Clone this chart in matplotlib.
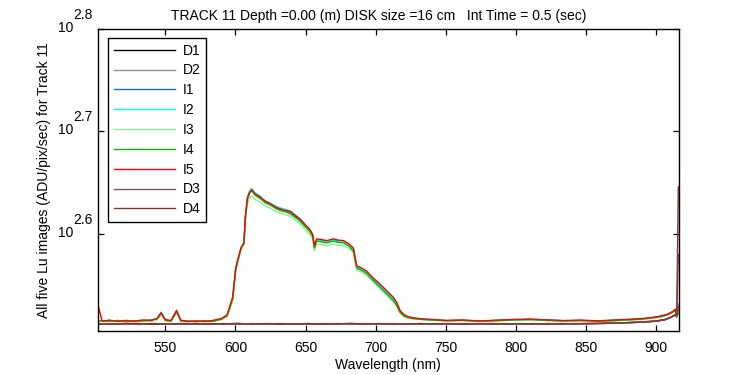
import matplotlib
matplotlib.use("Agg")
import matplotlib.pyplot as plt
from matplotlib.ticker import NullLocator, FixedLocator

plt.rcParams['font.family'] = ['Liberation Sans', 'DejaVu Sans']

title = "TRACK 11 Depth =0.00 (m) DISK size =16 cm   Int Time = 0.5 (sec)"
xlabel = "Wavelength (nm)"
ylabel = "All five Lu images (ADU/pix/sec) for Track 11"

xticks = [550, 600, 650, 700, 750, 800, 850, 900]
ytick_exps = [2.6, 2.7, 2.8]
ytick_exp_labels = ["2.6", "2.7", "2.8"]

# wavelength grid for illuminated series
wl_i = [502, 505, 510, 516, 522, 528, 534, 540, 544, 547,
        550, 554, 558, 561, 566, 572, 578, 584, 590, 594,
        598, 600, 601, 604, 606, 607, 608.5, 610, 611.5, 614,
        617.5, 621, 625, 629, 633, 636, 639, 642, 646, 650,
        653, 655, 656.2, 657.8, 661, 665, 669.7, 673, 677, 681,
        684, 686.4, 690, 693.5, 698, 703, 708, 712.5, 715, 717.3,
        720, 722, 726, 732, 740, 750, 762, 774, 786, 798,
        810, 822, 834, 846, 858, 870, 880, 890, 897, 903,
        908, 912, 913.5, 914.5, 915.6]

I1 = [327.4, 327.1, 327.5, 327.0, 327.3, 327.2, 327.6, 327.4, 328.4, 332.5,
      327.8, 327.3, 334.5, 326.9, 327.0, 326.9, 327.2, 327.3, 328.6, 330.8,
      343.5, 365.5, 371.5, 385.0, 389.0, 412.5, 430.0, 436.5, 439.0, 435.0,
      432.0, 428.0, 425.0, 422.0, 420.0, 419.0, 417.5, 414.5, 410.5, 405.0,
      401.0, 396.5, 386.5, 392.5, 392.0, 391.0, 392.5, 391.5, 391.0, 388.0,
      384.5, 369.5, 367.5, 365.0, 359.5, 354.5, 349.0, 344.0, 340.0, 334.0,
      331.2, 330.3, 329.2, 328.5, 328.0, 327.4, 327.7, 327.1, 327.5, 328.0,
      328.3, 327.8, 327.3, 327.6, 327.1, 327.6, 328.1, 328.7, 329.5, 330.5,
      332.0, 334.2, 335.6, 330.8, 334.5]
I2 = [327.2, 327.6, 326.8, 327.3, 327.7, 326.9, 327.5, 327.1, 328.8, 333.8,
      327.9, 327.2, 335.5, 327.5, 326.9, 327.4, 327.1, 326.9, 328.8, 331.2,
      344.5, 366.5, 372.5, 385.0, 390.5, 413.0, 432.5, 438.5, 441.0, 436.5,
      433.5, 429.0, 426.5, 423.5, 421.5, 420.5, 419.0, 416.0, 412.0, 405.5,
      401.5, 397.0, 386.5, 392.5, 392.0, 391.0, 392.5, 391.5, 391.0, 388.0,
      384.5, 369.5, 367.5, 365.0, 359.5, 354.5, 349.0, 344.0, 340.0, 334.5,
      331.5, 330.5, 329.4, 328.6, 328.1, 327.5, 327.7, 327.1, 327.6, 328.1,
      328.4, 327.8, 327.4, 327.6, 327.2, 327.7, 328.2, 328.8, 329.6, 330.6,
      332.0, 334.2, 335.5, 330.8, 334.0]
I3 = [326.8, 326.9, 327.4, 326.7, 327.1, 326.5, 327.0, 327.3, 327.8, 331.5,
      327.3, 326.8, 333.5, 327.0, 326.6, 327.0, 326.5, 327.2, 328.0, 330.5,
      342.5, 364.5, 371.0, 384.0, 388.0, 408.5, 425.5, 431.5, 433.5, 430.0,
      427.5, 424.0, 421.5, 418.5, 416.5, 415.5, 414.0, 411.0, 407.0, 401.5,
      397.5, 393.0, 383.0, 389.0, 388.5, 387.5, 389.0, 388.0, 387.5, 385.0,
      381.5, 367.0, 365.0, 362.5, 357.5, 352.0, 346.5, 341.5, 338.0, 333.0,
      330.5, 329.6, 328.8, 328.2, 327.8, 327.2, 327.5, 326.9, 327.3, 327.8,
      328.0, 327.5, 327.0, 327.3, 326.8, 327.3, 327.8, 328.4, 329.2, 330.0,
      331.5, 333.5, 334.8, 330.0, 332.0]
I4 = [327.5, 327.3, 327.0, 327.6, 326.8, 327.4, 327.2, 328.0, 328.6, 333.5,
      327.6, 327.0, 334.0, 327.2, 327.1, 326.6, 327.3, 327.0, 328.5, 331.0,
      344.0, 366.0, 372.0, 386.0, 389.5, 412.0, 430.5, 436.0, 438.5, 434.0,
      431.0, 427.0, 424.5, 421.0, 419.0, 418.0, 416.5, 413.5, 409.5, 404.0,
      400.0, 396.0, 385.5, 391.5, 391.0, 390.0, 391.5, 390.5, 390.0, 387.0,
      383.0, 368.5, 366.5, 364.0, 358.5, 353.0, 347.5, 342.5, 338.5, 333.5,
      331.0, 330.0, 329.0, 328.4, 327.9, 327.4, 327.6, 327.0, 327.4, 327.9,
      328.2, 327.6, 327.2, 327.5, 327.0, 327.5, 328.0, 328.6, 329.4, 330.4,
      331.8, 334.0, 335.2, 330.5, 333.0]
I5 = [339.2, 327.0, 327.8, 326.9, 327.5, 327.0, 327.9, 327.6, 329.0, 333.0,
      328.2, 327.5, 335.0, 327.8, 326.8, 327.2, 326.9, 327.6, 329.0, 331.6,
      345.3, 367.0, 372.9, 385.7, 390.1, 413.7, 431.8, 437.0, 439.5, 435.5,
      432.5, 428.5, 425.8, 422.5, 420.5, 419.5, 418.7, 415.5, 411.5, 406.0,
      402.0, 397.5, 387.5, 393.5, 393.0, 392.0, 393.5, 392.5, 392.0, 389.0,
      385.5, 370.5, 368.5, 366.0, 360.5, 355.5, 350.0, 345.0, 341.0, 335.0,
      332.0, 330.8, 329.6, 328.8, 328.3, 327.6, 327.9, 327.2, 327.8, 328.3,
      328.6, 328.0, 327.5, 327.8, 327.3, 327.9, 328.4, 329.0, 329.8, 330.8,
      332.2, 334.5, 336.0, 331.0, 338.0]

# wavelength grid for dark series
wl_d = [502, 512, 522, 532, 542, 552, 562, 572, 582, 592,
        602, 612, 622, 632, 642, 652, 662, 672, 682, 692,
        702, 712, 722, 732, 742, 752, 762, 772, 782, 792,
        802, 812, 822, 832, 842, 852, 862, 872, 882, 892,
        900, 906, 910, 913, 914.5, 915.6]

D1 = [325.3, 324.8, 325.4, 325.0, 324.7, 325.2, 324.9, 325.3, 324.8, 325.1,
      325.4, 324.9, 325.2, 324.7, 325.1, 325.3, 324.8, 325.0, 325.4, 324.9,
      325.2, 324.8, 325.1, 325.3, 324.9, 325.2, 324.7, 325.0, 325.3, 325.1,
      325.1, 324.9, 325.3, 325.0, 325.2, 325.4, 325.3, 325.7, 326.0, 326.4,
      327.0, 328.0, 329.6, 331.5, 330.0, 335.0]
D2 = [325.0, 325.3, 324.9, 325.2, 325.4, 324.8, 325.1, 324.9, 325.3, 325.0,
      324.8, 325.2, 325.0, 325.4, 324.9, 325.0, 325.3, 325.2, 324.8, 325.1,
      324.9, 325.3, 325.0, 324.8, 325.2, 325.0, 325.3, 325.1, 324.8, 325.2,
      325.0, 325.3, 325.0, 325.2, 324.9, 325.3, 325.5, 325.6, 326.1, 326.6,
      327.2, 328.2, 329.4, 331.2, 331.0, 340.0]
D3 = [324.8, 325.2, 325.0, 324.6, 325.3, 325.0, 324.7, 325.2, 325.0, 324.8,
      325.1, 325.3, 324.7, 325.0, 325.2, 324.8, 325.1, 324.9, 325.2, 325.3,
      324.8, 325.0, 325.2, 324.9, 325.1, 324.7, 325.2, 325.0, 324.9, 325.3,
      324.9, 325.2, 325.0, 324.8, 325.3, 325.1, 325.4, 325.8, 325.9, 326.5,
      327.1, 328.1, 329.8, 331.8, 331.0, 379.8]
D4 = [325.1, 324.7, 325.2, 325.3, 324.9, 325.1, 325.3, 324.8, 325.1, 325.2,
      324.9, 325.0, 325.3, 325.1, 324.8, 325.2, 324.9, 325.3, 325.0, 324.8,
      325.3, 325.1, 324.9, 325.2, 325.0, 325.3, 324.9, 325.2, 325.1, 324.8,
      325.2, 325.0, 324.8, 325.3, 325.0, 325.2, 325.6, 325.7, 326.2, 326.7,
      327.3, 328.3, 329.9, 331.6, 332.0, 442.3]

series = [("D1", wl_d, D1, "#000000"),
          ("D2", wl_d, D2, "#929292"),
          ("I1", wl_i, I1, "#1f6fd8"),
          ("I2", wl_i, I2, "#00ffff"),
          ("I3", wl_i, I3, "#90ee90"),
          ("I4", wl_i, I4, "#00c000"),
          ("I5", wl_i, I5, "#ff0000"),
          ("D3", wl_d, D3, "#7d5656"),
          ("D4", wl_d, D4, "#8a3535")]

fig = plt.figure(figsize=(7.5, 3.75), dpi=100)
ax = fig.add_axes([98/750, 44/375, 581/750, 302/375])

for name, x, y, c in series:
    ax.plot(x, y, color=c, lw=1.0, label=name)

ax.set_yscale('log')
ax.set_xlim(502, 916.1)
ax.set_ylim(10**2.505, 10**2.8)
ax.yaxis.set_major_locator(FixedLocator([10**e for e in ytick_exps]))
ax.yaxis.set_minor_locator(NullLocator())
ax.set_yticklabels([])
ax.set_xticks(xticks)
ax.set_xticklabels([str(t) for t in xticks])
ax.tick_params(direction='in', length=4, width=0.9, top=True, right=True,
               labelsize=10, pad=7)
for s in ax.spines.values():
    s.set_linewidth(1.0)

for e, lab in zip(ytick_exps, ytick_exp_labels):
    ax.annotate("10", xy=(0, 10**e), xycoords=('axes fraction', 'data'),
                xytext=(-25, 1), textcoords='offset pixels',
                ha='right', va='center', fontsize=10)
    ax.annotate(lab, xy=(0, 10**e), xycoords=('axes fraction', 'data'),
                xytext=(-25, 14), textcoords='offset pixels',
                ha='left', va='center', fontsize=10)

fig.text(379/750, 1 - 16/375, title, ha='center', va='center', fontsize=10)
fig.text(388/750, 1 - 365/375, xlabel, ha='center', va='center', fontsize=10)
fig.text(44/750, 1 - 180/375, ylabel, ha='center', va='center',
         rotation=90, fontsize=10)

leg = ax.legend(loc='upper left', bbox_to_anchor=(10/581, 1 - 9/302),
                fontsize=10, frameon=True, fancybox=False, edgecolor='black',
                framealpha=1, handlelength=4.4, handletextpad=0.6,
                labelspacing=0.42, borderpad=0.4, borderaxespad=0)
leg.get_frame().set_linewidth(1.0)

fig.savefig("out.png", dpi=100)
